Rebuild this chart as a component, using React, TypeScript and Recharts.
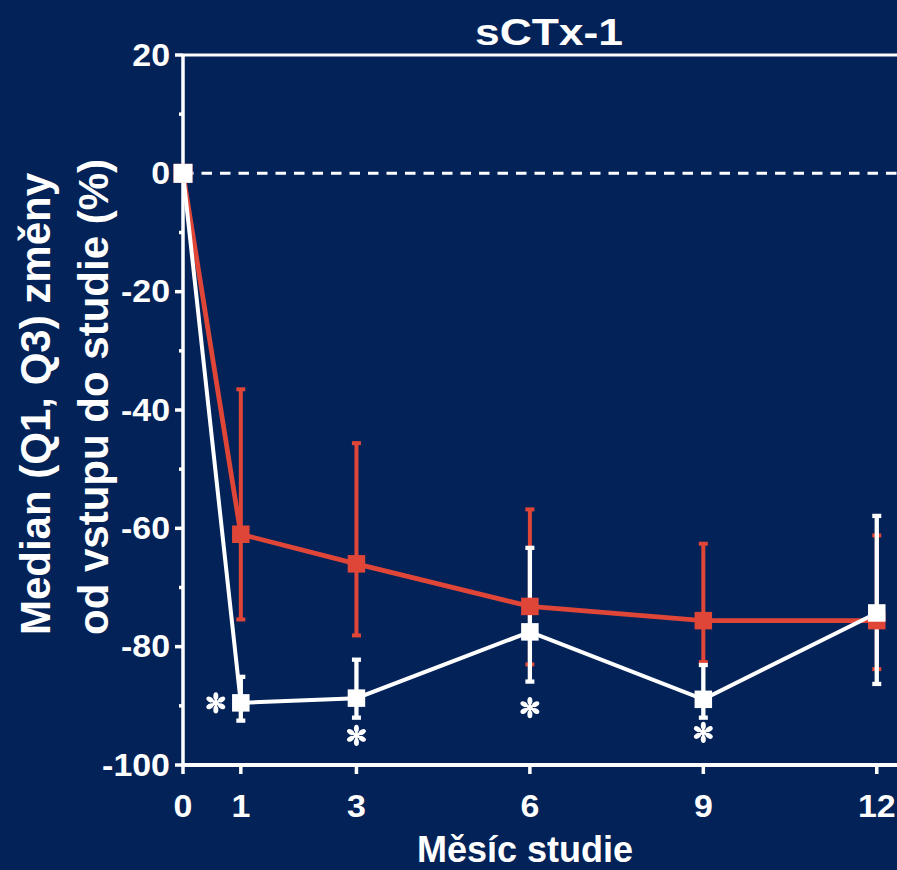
import React from 'react';
import {
  ComposedChart,
  Line,
  XAxis,
  YAxis,
  ErrorBar,
  ReferenceLine,
  Scatter,
  Customized,
} from 'recharts';

// Study months
const months = [0, 1, 3, 6, 9, 12];

// Red group: median % change with Q1 / Q3
const redMedian = [0, -61, -66, -73.2, -75.6, -75.6];
const redQ1 = [0, -75.4, -78.1, -83, -82.6, -83.8];
const redQ3 = [0, -36.5, -45.6, -56.8, -62.6, -61.2];

// White group: median % change with Q1 / Q3
const whiteMedian = [0, -89.5, -88.7, -77.5, -88.9, -74.3];
const whiteQ1 = [0, -92.5, -92, -85.9, -92, -86.3];
const whiteQ3 = [0, -85.1, -82.2, -63.3, -83.1, -57.9];

// Significance markers
const sigMonths = [1, 3, 6, 9];
const sigValues = [-89.5, -95, -90.3, -94.5];
const sigSides = ['left', 'below', 'below', 'below'];

const xTicks = [0, 1, 3, 6, 9, 12];
const yTicks = [-100, -90, -80, -70, -60, -50, -40, -30, -20, -10, 0, 10, 20];

const BG = '#022258';
const RED = '#E04638';
const WHITE = '#FFFFFF';
const FONT = '"Liberation Sans", Arial, Helvetica, sans-serif';

const rows = months.map((m, i) => ({
  month: m,
  red: redMedian[i],
  redErr: [redMedian[i] - redQ1[i], redQ3[i] - redMedian[i]],
  white: whiteMedian[i],
  whiteErr: [whiteMedian[i] - whiteQ1[i], whiteQ3[i] - whiteMedian[i]],
}));

const sigRows = sigMonths.map((m, i) => ({ month: m, y: sigValues[i], side: sigSides[i] }));

// Bold text that is widened horizontally
const WideText = ({ x, y, size, anchor = 'middle', sx = 1.2, children }: any) => (
  <text
    transform={`translate(${x},${y}) scale(${sx},1)`}
    textAnchor={anchor}
    fill={WHITE}
    fontSize={size}
    fontWeight="bold"
    fontFamily={FONT}
  >
    {children}
  </text>
);

const squareDot = (color: string, size: number) => (props: any) => {
  const { cx, cy, index } = props;
  if (cx == null || cy == null) return <g key={`d-${index}`} />;
  const s = index === 0 ? size + 1.5 : size;
  return (
    <rect key={`d-${index}`} x={cx - s / 2} y={cy - s / 2} width={s} height={s} fill={color} />
  );
};

const YTick = (props: any) => {
  const { x, y, payload } = props;
  const major = payload.value % 20 === 0;
  return (
    <g>
      <line x1={x - (major ? 8 : 4)} x2={x} y1={y} y2={y} stroke={WHITE} strokeWidth={3.5} />
      {major && (
        <WideText x={x - 13} y={y + 10.5} size={32} sx={1.06} anchor="end">
          {payload.value}
        </WideText>
      )}
    </g>
  );
};

const XTick = (props: any) => {
  const { x, y, payload } = props;
  return (
    <g>
      <line x1={x} x2={x} y1={y} y2={y + 9} stroke={WHITE} strokeWidth={3.5} />
      <WideText x={x} y={y + 52} size={32} sx={1.06}>
        {payload.value}
      </WideText>
    </g>
  );
};

const Asterisk = (props: any) => {
  const { cx, cy, payload } = props;
  const c = payload.side === 'left' ? cx - 25 : cx;
  const petals = [90, 30, -30, -90, -150, 150].map((deg) => (
    <ellipse
      key={deg}
      cx={0}
      cy={0}
      rx={3.8}
      ry={2.5}
      fill={WHITE}
      transform={`translate(${c},${cy}) rotate(${-deg}) translate(6.8,0)`}
    />
  ));
  const spokes = [90, 30, 150].map((deg) => {
    const a = (deg * Math.PI) / 180;
    return (
      <line
        key={deg}
        x1={c - 8 * Math.cos(a)}
        y1={cy - 8 * Math.sin(a)}
        x2={c + 8 * Math.cos(a)}
        y2={cy + 8 * Math.sin(a)}
        stroke={WHITE}
        strokeWidth={2.6}
        strokeLinecap="round"
      />
    );
  });
  return (
    <g>
      {spokes}
      {petals}
    </g>
  );
};

const Titles = () => (
  <g fontFamily={FONT} fontWeight="bold" fill={WHITE}>
    <WideText x={549} y={45} size={37}>
      sCTx-1
    </WideText>
    <text x={525} y={862} textAnchor="middle" fontSize={36}>
      Měsíc studie
    </text>
    <text x={50} y={404} textAnchor="middle" fontSize={42} transform="rotate(-90, 50, 404)">
      Median (Q1, Q3) změny
    </text>
    <text x={108} y={397} textAnchor="middle" fontSize={42} transform="rotate(-90, 108, 397)">
      od vstupu do studie (%)
    </text>
  </g>
);

export default function App() {
  return (
    <div
      style={{
        position: 'absolute',
        left: 0,
        top: 0,
        width: 897,
        height: 870,
        background: BG,
        overflow: 'hidden',
      }}
    >
      <ComposedChart
        width={897}
        height={870}
        data={rows}
        margin={{ top: 55, right: 0, bottom: 0, left: 0 }}
      >
        <XAxis
          dataKey="month"
          type="number"
          domain={[0, 12.35]}
          ticks={xTicks}
          interval={0}
          height={105}
          tickSize={0}
          tickMargin={0}
          tickLine={false}
          axisLine={{ stroke: WHITE, strokeWidth: 4 }}
          tick={<XTick />}
        />
        <YAxis
          type="number"
          domain={[-100, 20]}
          ticks={yTicks}
          interval={0}
          width={183}
          tickSize={0}
          tickMargin={0}
          tickLine={false}
          axisLine={{ stroke: WHITE, strokeWidth: 3.5 }}
          tick={<YTick />}
        />
        <ReferenceLine y={20} stroke={WHITE} strokeWidth={3} />
        <ReferenceLine y={0} stroke={WHITE} strokeWidth={3} strokeDasharray="10.5 8" />
        <Line
          dataKey="red"
          type="linear"
          stroke={RED}
          strokeWidth={4.8}
          dot={squareDot(RED, 17.5)}
          activeDot={false}
          isAnimationActive={false}
        >
          <ErrorBar
            dataKey="redErr"
            direction="y"
            width={4.5}
            stroke={RED}
            strokeWidth={4}
            isAnimationActive={false}
          />
        </Line>
        <Line
          dataKey="white"
          type="linear"
          stroke={WHITE}
          strokeWidth={4}
          dot={squareDot(WHITE, 17.5)}
          activeDot={false}
          isAnimationActive={false}
        >
          <ErrorBar
            dataKey="whiteErr"
            direction="y"
            width={4.5}
            stroke={WHITE}
            strokeWidth={4.3}
            isAnimationActive={false}
          />
        </Line>
        <Scatter data={sigRows} dataKey="y" shape={<Asterisk />} isAnimationActive={false} />
        <Customized component={Titles} />
      </ComposedChart>
    </div>
  );
}
